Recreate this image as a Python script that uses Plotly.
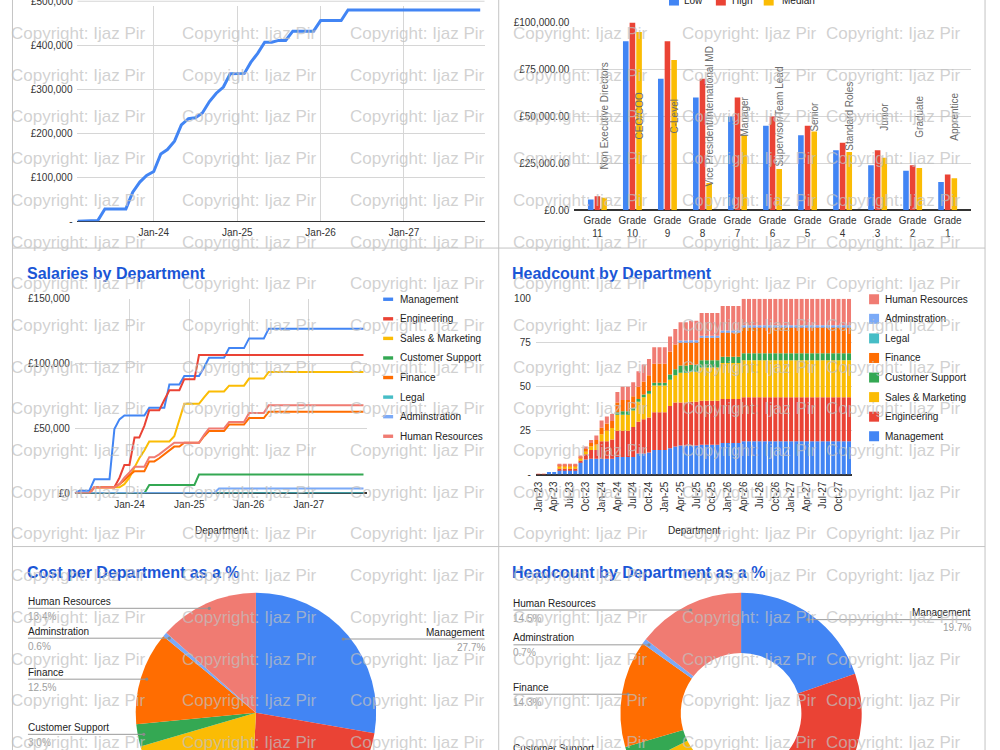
import numpy as np
import pandas as pd
import plotly.graph_objects as go

W, H = 1000, 860
FONT = "Liberation Sans, Arial, sans-serif"

# page-pixel -> paper helpers (small offset/scale correction for the capture)
OFF_X = 2.0
OFF_Y, SCALE_Y = 5.46, 0.986


def X(px):
    return (px - OFF_X) / W


def Y(py):
    return 1 - ((py - OFF_Y) / SCALE_Y) / H


def dom(top_py, bottom_py):
    return [max(0.0, Y(bottom_py)), min(1.0, Y(top_py))]


# ---------------------------------------------------------------- data
departments = ["Management", "Engineering", "Sales & Marketing", "Customer Support",
               "Finance", "Legal", "Adminstration", "Human Resources"]
dept_colors = ["#4285F4", "#EA4335", "#FBBC04", "#34A853",
               "#FF6D01", "#46BDC6", "#7BAAF7", "#F07B72"]

salary_months = pd.date_range("2023-02-01", "2027-12-01", freq="MS")          # 59 points
headcount_months = pd.date_range("2023-01-01", "2027-12-01", freq="MS").strftime("%b-%y").tolist()  # 60

# total monthly salary cost (GBP thousands), Feb-23 .. Dec-27
total_salary_k = [
    0, 0.5, 1, 1.5, 28, 28, 28, 28, 66, 89, 104,
    113, 153, 163, 182, 219, 233, 235, 246, 272, 291, 305, 335,
    335, 336, 361, 382, 407, 407, 411, 411, 432, 432, 432, 432,
    456, 456, 456, 456, 480, 480, 480, 480, 480, 480, 480, 480,
    480, 480, 480, 480, 480, 480, 480, 480, 480, 480, 480, 480]

# salaries by department (GBP thousands), Feb-23 .. Dec-27
sal_management = [
    0, 2, 2, 2, 10.8, 10.8, 10.8, 10.8, 49.5, 57, 60,
    60, 60, 60, 60, 66, 66, 66, 66, 84, 84, 84, 90.5,
    90.5, 90.5, 90.5, 97, 104.6, 104.6, 104.6, 104.6, 112, 112, 112, 112,
    119.5, 119.5, 119.5, 119.5, 127, 127, 127, 127, 127, 127, 127, 127,
    127, 127, 127, 127, 127, 127, 127, 127, 127, 127, 127, 127]
sal_engineering = [
    0, 0, 0, 0, 4.6, 4.6, 4.6, 4.6, 4.6, 12, 21.8,
    21.8, 43, 43, 52, 64, 64, 64, 72, 79.5, 79.5, 79.5, 88,
    88, 88, 106.7, 106.7, 106.7, 106.7, 106.7, 106.7, 106.7, 106.7, 106.7, 106.7,
    106.7, 106.7, 106.7, 106.7, 106.7, 106.7, 106.7, 106.7, 106.7, 106.7, 106.7, 106.7,
    106.7, 106.7, 106.7, 106.7, 106.7, 106.7, 106.7, 106.7, 106.7, 106.7, 106.7, 106.7]
sal_sales = [
    0, 0, 0, 0, 4.6, 4.6, 4.6, 4.6, 4.6, 4.6, 7,
    12, 20, 27, 33, 40, 40, 40, 40, 40, 44, 56, 69,
    69, 69, 69, 74, 78.5, 78.5, 78.5, 78.5, 83, 83, 83, 83,
    88.5, 88.5, 88.5, 88.5, 93.6, 93.6, 93.6, 93.6, 93.6, 93.6, 93.6, 93.6,
    93.6, 93.6, 93.6, 93.6, 93.6, 93.6, 93.6, 93.6, 93.6, 93.6, 93.6, 93.6]
sal_support = [
    0, 0, 0, 0, 0, 0, 0, 0, 0, 0, 0,
    0, 0, 0, 0, 6.4, 6.4, 6.4, 6.4, 6.4, 6.4, 6.4, 6.4,
    6.4, 6.4, 14.4, 14.4, 14.4, 14.4, 14.4, 14.4, 14.4, 14.4, 14.4, 14.4,
    14.4, 14.4, 14.4, 14.4, 14.4, 14.4, 14.4, 14.4, 14.4, 14.4, 14.4, 14.4,
    14.4, 14.4, 14.4, 14.4, 14.4, 14.4, 14.4, 14.4, 14.4, 14.4, 14.4, 14.4]
sal_finance = [
    0, 0, 0, 0, 4.6, 4.6, 4.6, 4.6, 4.6, 7, 10,
    14, 17, 17, 17, 24.6, 24.6, 27, 30, 33, 36, 36, 39,
    39, 39, 39, 44, 48, 48, 48, 48, 53, 53, 53, 53,
    58, 58, 58, 58, 62.8, 62.8, 62.8, 62.8, 62.8, 62.8, 62.8, 62.8,
    62.8, 62.8, 62.8, 62.8, 62.8, 62.8, 62.8, 62.8, 62.8, 62.8, 62.8, 62.8]
sal_legal = [
    0, 0, 0, 0, 0, 0, 0, 0, 0, 0, 0,
    0, 0, 0, 0, 0, 0, 0, 0, 0, 0, 0, 0,
    0, 0, 0, 0, 0, 0, 0, 0, 0, 0, 0, 0,
    0, 0, 0, 0, 0, 0, 0, 0, 0, 0, 0, 0,
    0, 0, 0, 0, 0, 0, 0, 0, 0, 0, 0, 0]
sal_admin = [
    0, 0, 0, 0, 0, 0, 0, 0, 0, 0, 0,
    0, 0, 0, 0, 0, 0, 0, 0, 0, 0, 0, 0,
    0, 0, 0, 0, 0, 0, 3.6, 3.6, 3.6, 3.6, 3.6, 3.6,
    3.6, 3.6, 3.6, 3.6, 3.6, 3.6, 3.6, 3.6, 3.6, 3.6, 3.6, 3.6,
    3.6, 3.6, 3.6, 3.6, 3.6, 3.6, 3.6, 3.6, 3.6, 3.6, 3.6, 3.6]
sal_hr = [
    0, 0, 0, 0, 4.6, 4.6, 4.6, 4.6, 4.6, 7, 12,
    16, 20.5, 20.5, 20.5, 27.7, 27.7, 30, 33, 36, 39, 39, 39,
    39, 39, 39, 45, 50, 50, 50, 50, 55, 55, 55, 55,
    62, 62, 62, 62, 68, 68, 68, 68, 68, 68, 68, 68,
    68, 68, 68, 68, 68, 68, 68, 68, 68, 68, 68, 68]

# headcount by department, Jan-23 .. Dec-27
hc_management = [
    0, 0, 1.5, 1.5, 2.5, 2.5, 2.5, 2.5, 7, 8.5, 9, 9,
    9, 9, 9, 10, 10, 10, 10, 12, 12, 12.5, 14, 14,
    14, 15, 16, 16.5, 16.5, 16.5, 16.5, 17, 17, 17, 17, 18,
    18, 18, 18, 19, 19, 19, 19, 19, 19, 19, 19, 19,
    19, 19, 19, 19, 19, 19, 19, 19, 19, 19, 19, 19]
hc_engineering = [
    0.4, 0.4, 0, 0, 1, 1, 1, 1, 1, 3, 5, 5,
    10, 10, 11, 15, 15, 15, 17, 18, 19.5, 20, 21.5, 21.5,
    21.5, 24, 25, 24.5, 24.5, 25, 25, 25, 25, 25, 25, 25,
    25, 25, 25, 25, 25, 25, 25, 25, 25, 25, 25, 25,
    25, 25, 25, 25, 25, 25, 25, 25, 25, 25, 25, 25]
hc_sales = [
    0, 0, 0, 0, 1, 1, 1, 1, 1, 1.5, 2, 3,
    4, 6, 6.5, 9, 9, 9, 9.5, 11.5, 12.5, 13.5, 15.2, 15.2,
    15.2, 15, 15.5, 17, 17, 17, 17, 19, 19, 19, 19, 20.5,
    20.5, 20.5, 20.5, 21, 21, 21, 21, 21, 21, 21, 21, 21,
    21, 21, 21, 21, 21, 21, 21, 21, 21, 21, 21, 21]
hc_support = [
    0, 0, 0, 0, 0, 0, 0, 0, 0, 0, 0, 0,
    0, 0, 0, 1.5, 2, 2, 1.5, 1.5, 1.5, 1.5, 1.5, 1.5,
    1.5, 3, 3.5, 4, 4, 4, 4, 4, 4, 4, 4, 3.5,
    3.5, 3.5, 3.5, 4, 4, 4, 4, 4, 4, 4, 4, 4,
    4, 4, 4, 4, 4, 4, 4, 4, 4, 4, 4, 4]
hc_finance = [
    0, 0, 0, 0, 1, 1, 1, 1, 1, 1.5, 2, 2.7,
    3.7, 4, 4, 5.5, 6.5, 6.5, 6.5, 7, 7.5, 9, 10.8, 10.8,
    10.8, 13, 14, 13.3, 13.3, 13, 13, 13, 13, 13, 13, 14,
    14, 14, 14, 15, 15, 15, 15, 15, 15, 15, 15, 15,
    15, 15, 15, 15, 15, 15, 15, 15, 15, 15, 15, 15]
hc_legal = [
    0, 0, 0, 0, 0, 0, 0, 0, 0, 0, 0, 0,
    0, 0, 0, 0, 0, 0, 0, 0, 0, 0, 0, 0,
    0, 0, 0, 0, 0, 0, 0, 0, 0, 0, 0, 0,
    0, 0, 0, 0, 0, 0, 0, 0, 0, 0, 0, 0,
    0, 0, 0, 0, 0, 0, 0, 0, 0, 0, 0, 0]
hc_admin = [
    0, 0, 0, 0, 0, 0, 0, 0, 0, 0, 0, 0,
    0, 0, 0, 0, 0, 0, 0, 0, 0, 0, 0, 0,
    0, 0, 0, 1, 1, 1, 1, 1, 1, 1, 1, 1,
    1, 1, 1, 1, 1, 1, 1, 1, 1, 1, 1, 1,
    1, 1, 1, 1, 1, 1, 1, 1, 1, 1, 1, 1]
hc_hr = [
    0, 0, 0, 0, 0.5, 0.5, 0.5, 0.5, 0.8, 1.5, 1.7, 2.5,
    4, 4, 4, 6, 7.5, 7.5, 8.1, 8.8, 9.6, 9.3, 9.5, 9.5,
    9.5, 8.6, 8.9, 10.4, 10.4, 11, 11, 13, 13, 13, 13, 14,
    14, 14, 14, 15, 15, 15, 15, 15, 15, 15, 15, 15,
    15, 15, 15, 15, 15, 15, 15, 15, 15, 15, 15, 15]

# salary bands per grade (GBP)
grade_names = ["11", "10", "9", "8", "7", "6", "5", "4", "3", "2", "1"]
grade_roles = ["Non Executive Directors", "CEO/COO", "C-Level", "Vice President/International MD",
               "Manager", "Supervisor/Team Lead", "Senior", "Standard Roles", "Junior",
               "Graduate", "Apprentice"]
grade_low = [5700, 90000, 70000, 60000, 50000, 45000, 40000, 32000, 24000, 21000, 15000]
grade_high = [7500, 100000, 90000, 70000, 60000, 50000, 45000, 36000, 32000, 24000, 19000]
grade_median = [6600, 95000, 80000, 14500, 40000, 22000, 42000, 31000, 28000, 22500, 17000]

# share of cost / headcount per department (%)
cost_share = [27.7, 23.1, 19.7, 3.0, 12.5, 0.0, 0.6, 13.4]
headcount_share = [19.7, 26.1, 21.7, 3.0, 14.3, 0.0, 0.7, 14.5]

salary_by_dept = [sal_management, sal_engineering, sal_sales, sal_support,
                  sal_finance, sal_legal, sal_admin, sal_hr]
headcount_by_dept = [hc_management, hc_engineering, hc_sales, hc_support,
                     hc_finance, hc_legal, hc_admin, hc_hr]

assert len(total_salary_k) == len(salary_months)
for s in salary_by_dept:
    assert len(s) == len(salary_months)
for s in headcount_by_dept:
    assert len(s) == len(headcount_months)

# ---------------------------------------------------------------- helpers
annotations = []
shapes = []
GRID = "#d6d6d6"
AXIS_DARK = "#333333"


def text(px, py, s, size=10, color="#222222", xanchor="left", yanchor="middle", bold=False, angle=0):
    annotations.append(dict(
        x=X(px), y=Y(py), xref="paper", yref="paper", showarrow=False,
        text=f"<b>{s}</b>" if bold else s, xanchor=xanchor, yanchor=yanchor,
        borderpad=0, borderwidth=0,
        textangle=angle, font=dict(size=size, color=color, family=FONT)))


def rect(x0, y0, x1, y1, color):
    shapes.append(dict(type="rect", xref="paper", yref="paper",
                       x0=X(x0), x1=X(x1), y0=Y(y1), y1=Y(y0),
                       fillcolor=color, line=dict(width=0)))


def hline(x0, x1, py, color="#9e9e9e", width=1, layer="above"):
    shapes.append(dict(type="line", xref="paper", yref="paper", layer=layer,
                       x0=X(x0), x1=X(x1), y0=Y(py), y1=Y(py),
                       line=dict(color=color, width=width)))


def vline(px, y0, y1, color="#c4c4c4", width=1):
    shapes.append(dict(type="line", xref="paper", yref="paper",
                       x0=X(px), x1=X(px), y0=Y(y0), y1=Y(y1),
                       line=dict(color=color, width=width)))


fig = go.Figure()

# ---------------------------------------------------------------- 1. total salaries line
TL_TOP, TL_BOTTOM, TL_MAX = 0.7, 220.7, 500000          # page rows of £500,000 and 0
tl_dom = dom(TL_TOP, TL_BOTTOM)
tl_visible_top = OFF_Y + (1 - tl_dom[1]) * H * SCALE_Y  # page row where the axis domain ends
tl_range_top = TL_MAX * (TL_BOTTOM - tl_visible_top) / (TL_BOTTOM - TL_TOP)

fig.add_trace(go.Scatter(
    x=salary_months, y=np.array(total_salary_k) * 1000, mode="lines",
    line=dict(color="#4285F4", width=3), xaxis="x", yaxis="y",
    name="Total", showlegend=False, cliponaxis=False))
# top gridline/label of this chart sit on the cropped top edge
hline(76.7, 485, TL_TOP, color=GRID, layer="below")
text(72.5, TL_TOP, "£500,000", size=10, color="#333333", xanchor="right")

# ---------------------------------------------------------------- 2. grade bands
grade_x = list(range(len(grade_names)))
for nm, vals, col, off in [("Low", grade_low, "#4285F4", -0.27),
                           ("High", grade_high, "#EA4335", -0.08),
                           ("Median", grade_median, "#FBBC04", 0.11)]:
    fig.add_trace(go.Bar(x=grade_x, y=vals, offset=off, width=0.16,
                         marker=dict(color=col, line=dict(width=0)),
                         xaxis="x2", yaxis="y2", name=nm, showlegend=False))
for i, role in enumerate(grade_roles):
    annotations.append(dict(x=i + 0.19, y=50000, xref="x2", yref="y2", text=role,
                            showarrow=False, textangle=-90, borderpad=0,
                            font=dict(size=10, color="#6b6b6b", family=FONT)))

# ---------------------------------------------------------------- 3. salaries by department
for dept, col, vals in zip(departments, dept_colors, salary_by_dept):
    fig.add_trace(go.Scatter(x=salary_months, y=np.array(vals) * 1000, mode="lines",
                             line=dict(color=col, width=2), xaxis="x3", yaxis="y3",
                             name=dept, showlegend=False))

# ---------------------------------------------------------------- 4. headcount stacked
base = np.zeros(len(headcount_months))
for dept, col, vals in zip(departments, dept_colors, headcount_by_dept):
    v = np.array(vals, dtype=float)
    fig.add_trace(go.Bar(x=headcount_months, y=v, base=base.copy(), width=0.76,
                         marker=dict(color=col, line=dict(width=0)),
                         xaxis="x4", yaxis="y4", name=dept, showlegend=False))
    base = base + v

# ---------------------------------------------------------------- 5/6. pies
pies = [
    dict(values=cost_share, cx=255.7, cy=712.3, r=120.6, hole=0, left=27, right=485),
    dict(values=headcount_share, cx=742.3, cy=712.7, r=121.0, hole=0.5, left=514, right=972.7),
]
for p in pies:
    fig.add_trace(go.Pie(
        labels=departments, values=p["values"], sort=False, direction="clockwise",
        rotation=0, hole=p["hole"], textinfo="none",
        marker=dict(colors=dept_colors, line=dict(width=0)),
        domain=dict(x=[X(p["cx"] - p["r"]), X(p["cx"] + p["r"])],
                    y=dom(p["cy"] - p["r"], p["cy"] + p["r"])),
        showlegend=False))
    total = float(sum(p["values"]))
    cum = 0.0
    for dept, v in zip(departments, p["values"]):
        if v <= 0:
            continue
        mid = (cum + v / 2) / total * 2 * np.pi
        cum += v
        dx = 0.95 * p["r"] * np.sin(mid)
        dy = -0.95 * p["r"] * np.cos(mid)
        dotx, doty = p["cx"] + dx, p["cy"] + dy
        if dx >= 0:
            xend, anc = p["right"], "right"
        else:
            xend, anc = p["left"], "left"
        hline(min(dotx, xend), max(dotx, xend), doty, color="#9a9a9a")
        shapes.append(dict(type="circle", xref="paper", yref="paper",
                           x0=X(dotx - 1.6), x1=X(dotx + 1.6), y0=Y(doty + 1.6), y1=Y(doty - 1.6),
                           fillcolor="#8a8a8a", line=dict(width=0)))
        text(xend, doty - 7, dept, size=10, color="#222222", xanchor=anc)
        text(xend, doty + 8, f"{v:.1f}%", size=10, color="#9e9e9e", xanchor=anc)

# ---------------------------------------------------------------- titles & axis titles
TITLE_BLUE = "#1a56d6"
text(26, 273, "Salaries by Department", size=16, color=TITLE_BLUE, bold=True)
text(513, 273, "Headcount by Department", size=16, color=TITLE_BLUE, bold=True)
text(26, 572, "Cost per Department as a %", size=16, color=TITLE_BLUE, bold=True)
text(513, 572, "Headcount by Department as a %", size=16, color=TITLE_BLUE, bold=True)
text(220.7, 529.5, "Department", xanchor="center")
text(695, 529.5, "Department", xanchor="center")

# ---------------------------------------------------------------- legends (drawn)
for (sx, tx, nm, col) in [(670, 685, "Low", "#4285F4"), (717, 733, "High", "#EA4335"),
                          (765, 783, "Median", "#FBBC04")]:
    rect(sx, -5, sx + 10, 5, col)
    text(tx, 0, nm)
for k, (dept, col) in enumerate(zip(departments, dept_colors)):
    yy = 298.7 + 19.57 * k
    rect(383.3, yy - 1.7, 393.3, yy + 1.7, col)
    text(400, yy, dept)
for k, (dept, col) in enumerate(zip(departments[::-1], dept_colors[::-1])):
    yy = 298.7 + 19.57 * k
    rect(870.7, yy - 5, 880.7, yy + 5, col)
    text(886.7, yy, dept)

# ---------------------------------------------------------------- panel borders
BORDER = "#c4c4c4"
for px in (11.5, 499.2, 987):
    vline(px, -10, 800, color=BORDER)
hline(11.5, 987, 247.5, color=BORDER)
hline(11.5, 987, 546, color=BORDER)

# ---------------------------------------------------------------- watermark
for r in range(19):
    wy = -8.7 + 41.7 * r
    for wx in (10, 182, 350, 514, 683, 827):
        text(wx, wy, "Copyright: Ijaz Pir", size=17, color="rgba(192,192,192,0.72)")

# ---------------------------------------------------------------- axes
tick_font = dict(size=10, color="#333333", family=FONT)
date_axis = dict(type="date", range=["2023-02-01", "2027-12-20"],
                 tickvals=["2024-01-01", "2025-01-01", "2026-01-01", "2027-01-01"],
                 ticktext=["Jan-24", "Jan-25", "Jan-26", "Jan-27"],
                 showgrid=True, gridcolor=GRID, ticks="", showline=False, zeroline=False,
                 tickfont=tick_font, ticklabelstandoff=4, fixedrange=True)

fig.update_layout(
    width=W, height=H, margin=dict(l=0, r=0, t=0, b=0, pad=0),
    paper_bgcolor="white", plot_bgcolor="white", barmode="overlay",
    showlegend=False, font=dict(family=FONT, size=10, color="#222222"),
    annotations=annotations, shapes=shapes,
    xaxis=dict(domain=[X(76.7), X(485)], anchor="y", **date_axis),
    yaxis=dict(domain=tl_dom, anchor="x", range=[0, tl_range_top],
               tickvals=[0, 100000, 200000, 300000, 400000],
               ticktext=["-", "£100,000", "£200,000", "£300,000", "£400,000"],
               showgrid=True, gridcolor=GRID, zeroline=True, zerolinecolor=AXIS_DARK,
               zerolinewidth=1, ticks="", tickfont=tick_font, ticklabelstandoff=4),
    xaxis2=dict(domain=[X(575), X(972.7)], anchor="y2", range=[-0.66, 10.66],
                tickvals=grade_x, ticktext=[f"Grade<br>{g}" for g in grade_names],
                showgrid=False, zeroline=False, ticks="", tickfont=tick_font,
                ticklabelstandoff=3),
    yaxis2=dict(domain=dom(22, 209.7), anchor="x2", range=[0, 100000],
                tickvals=[0, 25000, 50000, 75000, 100000],
                ticktext=["£0.00", "£25,000.00", "£50,000.00", "£75,000.00", "£100,000.00"],
                showgrid=True, gridcolor=GRID, zeroline=True, zerolinecolor=AXIS_DARK,
                ticks="", tickfont=tick_font, ticklabelstandoff=4),
    xaxis3=dict(domain=[X(74), X(366.7)], anchor="y3", **date_axis),
    yaxis3=dict(domain=dom(298.3, 492.7), anchor="x3", range=[0, 150000],
                tickvals=[0, 50000, 100000, 150000],
                ticktext=["£0", "£50,000", "£100,000", "£150,000"],
                showgrid=True, gridcolor=GRID, zeroline=True, zerolinecolor=AXIS_DARK,
                ticks="", tickfont=tick_font, ticklabelstandoff=4),
    xaxis4=dict(domain=[X(536.4), X(853.2)], anchor="y4", type="category",
                range=[-0.5, len(headcount_months) - 0.5],
                tickvals=headcount_months[::3], ticktext=headcount_months[::3],
                tickangle=-90, showgrid=False, zeroline=False, ticks="",
                tickfont=tick_font, ticklabelstandoff=4),
    yaxis4=dict(domain=dom(298.3, 474), anchor="x4", range=[0, 100],
                tickvals=[0, 25, 50, 75, 100], ticktext=["-", "25", "50", "75", "100"],
                showgrid=True, gridcolor=GRID, zeroline=True, zerolinecolor=AXIS_DARK,
                ticks="", tickfont=tick_font, ticklabelstandoff=4),
)

# the dashboard is cropped at the bottom edge of the 1000x750 window
fig.write_html(
    "out.html",
    post_script=(
        "var gd=document.getElementById('{plot_id}');"
        "if(gd&&gd.parentElement){gd.parentElement.style.height='750px';"
        "gd.parentElement.style.overflow='hidden';}"
        "document.body.style.margin='0';"
        "document.body.style.height='750px';"
        "document.body.style.overflow='hidden';"
        "document.documentElement.style.height='750px';"
        "document.documentElement.style.overflow='hidden';"))
